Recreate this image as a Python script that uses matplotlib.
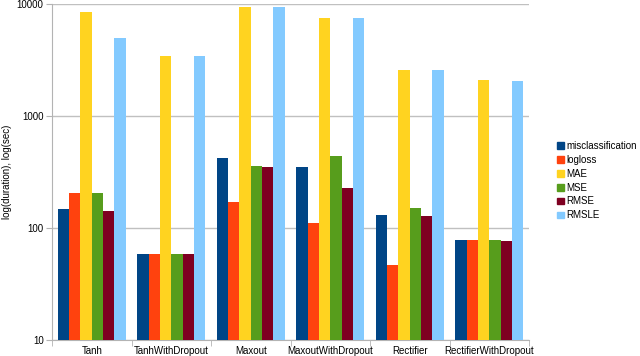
import numpy as np
import matplotlib
matplotlib.use("Agg")
import matplotlib.pyplot as plt
from matplotlib.patches import Patch

plt.rcParams['font.family'] = ['Liberation Sans', 'DejaVu Sans']

# Data
models = ["Tanh", "TanhWithDropout", "Maxout", "MaxoutWithDropout", "Rectifier", "RectifierWithDropout"]
misclassification = [147, 59, 422, 350, 131, 78]
logloss = [204, 59, 170, 110, 47, 78]
mae = [8500, 3450, 9340, 7500, 2570, 2085]
mse = [204, 59, 360, 440, 150, 78]
rmse = [142, 59, 352, 226, 129, 77]
rmsle = [4940, 3450, 9340, 7500, 2570, 2040]

series = [
    ("misclassification", misclassification, "#004586"),
    ("logloss", logloss, "#ff420e"),
    ("MAE", mae, "#ffd320"),
    ("MSE", mse, "#579d1c"),
    ("RMSE", rmse, "#7e0021"),
    ("RMSLE", rmsle, "#83caff"),
]

fig = plt.figure(figsize=(6.4, 3.56), dpi=100)
ax = fig.add_axes([52 / 640, 16 / 356, 477 / 640, 336 / 356])

x = np.arange(len(models))
w = 0.142
for i, (name, vals, col) in enumerate(series):
    ax.bar(x + (i - 2.5) * w, vals, w, color=col, label=name, zorder=3)

ax.set_yscale("log")
ax.set_ylim(10, 10000)
ax.set_xlim(-0.5, len(models) - 0.5)
ax.set_yticks([10, 100, 1000, 10000])
ax.set_yticklabels(["10", "100", "1000", "10000"])
ax.yaxis.set_minor_locator(matplotlib.ticker.NullLocator())
ax.grid(axis="y", color="#c0c0c0", linewidth=1, zorder=0)
ax.set_xticks(x)
ax.set_xticklabels(models)
ax.set_xticks(np.arange(len(models) + 1) - 0.5, minor=True)
ax.tick_params(axis="x", which="major", length=0, labelsize=7, pad=4)
ax.tick_params(axis="x", which="minor", length=4, color="#b3b3b3")
ax.tick_params(axis="y", labelsize=7, length=4, color="#b3b3b3", pad=2)
for s in ["top", "right"]:
    ax.spines[s].set_visible(False)
ax.spines["left"].set_color("#b3b3b3")
ax.spines["bottom"].set_color("#b3b3b3")
ax.set_ylabel("log(duration), log(sec)", fontsize=7)
ax.yaxis.set_label_coords(-40 / 477, 0.5)

handles = [Patch(color=c, label=n) for n, _, c in series]
fig.legend(handles=handles, loc="upper left", bbox_to_anchor=(553 / 640, 1 - 137 / 356),
           frameon=False, fontsize=7, handlelength=0.7, handleheight=0.7,
           handletextpad=0.3, labelspacing=0.4, borderaxespad=0)

fig.savefig("out.png", dpi=100)
